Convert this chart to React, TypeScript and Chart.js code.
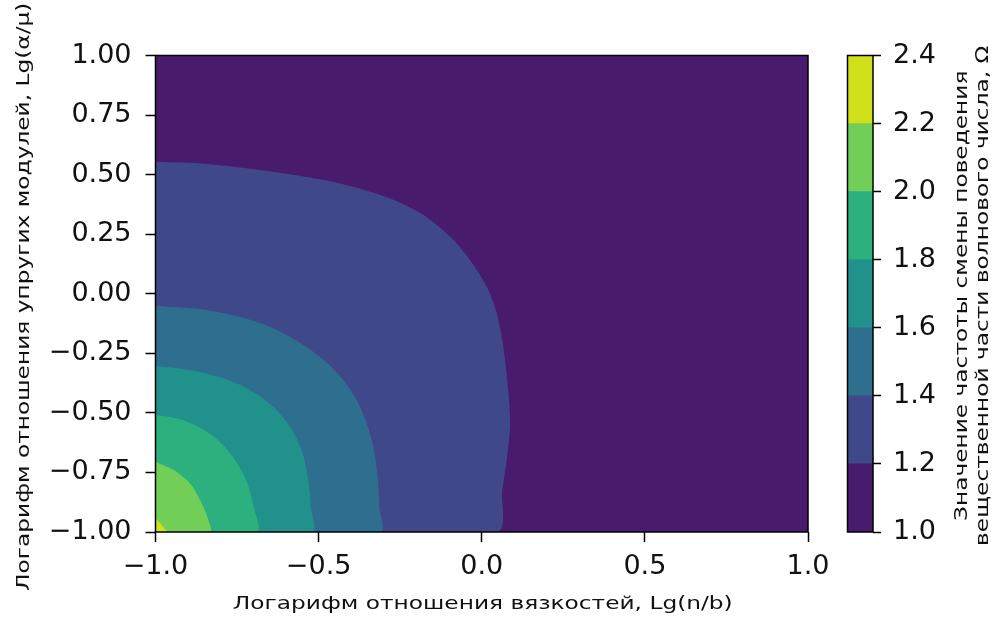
import { useEffect, useRef } from 'react';
import { Chart, registerables } from 'chart.js';

Chart.register(...registerables);

const FONT = 'DejaVu Sans';
const TITLE_SIZE = 17.5;
const TITLE_STRETCH = 1.33;

// Axis ticks
const xTicks = [-1, -0.5, 0, 0.5, 1];
const yTicks = [-1, -0.75, -0.5, -0.25, 0, 0.25, 0.5, 0.75, 1];

// Contour levels (colour bar) and their viridis fills
const levels = [1.0, 1.2, 1.4, 1.6, 1.8, 2.0, 2.2, 2.4];
const levelColors = ['#481b6d', '#3f4889', '#2e6e8e', '#21918c', '#2cb17e', '#71cf57', '#d0e11c'];

// Labels
const xTitle = 'Логарифм отношения вязкостей, Lg(n/b)';
const yTitle = 'Логарифм отношения упругих модулей, Lg(α/μ)';
const cbTitleLines = ['Значение частоты смены поведения', 'вещественной части волнового числа, Ω'];

// Whole domain (lowest band)
const domain: [number, number][] = [[-1, -1], [-1, 1], [1, 1], [1, -1]];

// Iso-lines, from the left edge down to the bottom edge
const contour12: [number, number][] = [
  [-1, 0.554], [-0.843, 0.545], [-0.639, 0.512], [-0.434, 0.463], [-0.281, 0.4],
  [-0.179, 0.331], [-0.097, 0.24], [-0.036, 0.142], [0.015, 0.03], [0.046, -0.082],
  [0.066, -0.222], [0.081, -0.404], [0.087, -0.544], [0.078, -0.684], [0.063, -0.824], [0.046, -1],
];
const contour14: [number, number][] = [
  [-1, -0.05], [-0.843, -0.068], [-0.69, -0.117], [-0.588, -0.18], [-0.496, -0.264],
  [-0.424, -0.362], [-0.373, -0.474], [-0.337, -0.614], [-0.32, -0.754], [-0.314, -0.894], [-0.312, -1],
];
const contour16: [number, number][] = [
  [-1, -0.303], [-0.894, -0.32], [-0.792, -0.355], [-0.71, -0.404], [-0.639, -0.474],
  [-0.588, -0.558], [-0.552, -0.656], [-0.532, -0.782], [-0.524, -0.894], [-0.521, -1],
];
const contour18: [number, number][] = [
  [-1, -0.509], [-0.93, -0.525], [-0.86, -0.565], [-0.8, -0.625], [-0.755, -0.7],
  [-0.72, -0.79], [-0.7, -0.89], [-0.69, -1],
];
const contour20: [number, number][] = [
  [-1, -0.705], [-0.945, -0.74], [-0.894, -0.796], [-0.858, -0.88], [-0.838, -0.95], [-0.833, -1],
];
const contour22: [number, number][] = [
  [-1, -0.94], [-0.985, -0.965], [-0.966, -1],
];

const contours = [contour12, contour14, contour16, contour18, contour20, contour22];
const corner: [number, number] = [-1, -1];

const fmt = (v: number, digits: number) =>
  (v < 0 ? '\u2212' : '') + Math.abs(v).toFixed(digits);

// Wide title lettering, optionally rotated to read bottom-to-top
function drawTitle(ctx: CanvasRenderingContext2D, text: string, x: number, y: number, vertical: boolean) {
  ctx.save();
  ctx.translate(x, y);
  if (vertical) ctx.rotate(-Math.PI / 2);
  ctx.scale(TITLE_STRETCH, 1);
  ctx.font = `${TITLE_SIZE}px "${FONT}"`;
  ctx.fillStyle = '#111';
  ctx.textAlign = 'center';
  ctx.textBaseline = 'alphabetic';
  ctx.fillText(text, 0, 0);
  ctx.restore();
}

const framePlugin = {
  id: 'frame',
  afterDraw(chart: any) {
    const { ctx, chartArea } = chart;
    const { left, top, right, bottom } = chartArea;
    ctx.save();
    ctx.strokeStyle = '#000';
    ctx.lineWidth = 1.5;
    ctx.strokeRect(left, top, right - left, bottom - top);
    ctx.restore();
  },
};

const axisTitlesPlugin = {
  id: 'axisTitles',
  afterDraw(chart: any) {
    const { ctx, chartArea } = chart;
    const cx = (chartArea.left + chartArea.right) / 2 + 1;
    const cy = (chartArea.top + chartArea.bottom) / 2 + 3;
    drawTitle(ctx, xTitle, cx, 609, false);
    drawTitle(ctx, yTitle, 28.5, cy, true);
  },
};

const cbTitlePlugin = {
  id: 'cbTitle',
  afterDraw(chart: any) {
    const { ctx, chartArea } = chart;
    const cy = (chartArea.top + chartArea.bottom) / 2 + 2;
    cbTitleLines.forEach((line, k) => {
      drawTitle(ctx, line, 127 + k * 20.5, cy, true);
    });
  },
};

export default function App() {
  const mainRef = useRef<HTMLCanvasElement>(null);
  const cbRef = useRef<HTMLCanvasElement>(null);

  useEffect(() => {
    Chart.defaults.font.family = FONT;
    const regions = [domain, ...contours.map((c) => [...c, corner])];

    const main = new Chart(mainRef.current!, {
      type: 'line',
      data: {
        datasets: regions.map((pts, i) => ({
          data: pts.map(([x, y]) => ({ x, y })),
          backgroundColor: levelColors[i],
          borderColor: levelColors[i],
          borderWidth: 0,
          pointRadius: 0,
          pointHoverRadius: 0,
          fill: 'shape',
          tension: 0.3,
          order: regions.length - i,
        })),
      },
      options: {
        animation: false,
        responsive: false,
        devicePixelRatio: 1,
        layout: { padding: { left: 0, top: 55.5, right: 32, bottom: 0 } },
        plugins: { legend: { display: false }, tooltip: { enabled: false } },
        events: [],
        scales: {
          x: {
            type: 'linear',
            min: -1,
            max: 1,
            afterBuildTicks: (s: any) => { s.ticks = xTicks.map((v) => ({ value: v })); },
            afterFit: (s: any) => { s.height = 91; },
            ticks: {
              callback: (v: any) => fmt(Number(v), 1),
              font: { size: 27 },
              color: '#111',
              padding: 9,
              maxRotation: 0,
              autoSkip: false,
            },
            grid: { drawOnChartArea: false, drawTicks: true, tickLength: 10, tickWidth: 1.5, tickColor: '#000' },
            border: { display: false },
          },
          y: {
            type: 'linear',
            min: -1,
            max: 1,
            afterBuildTicks: (s: any) => { s.ticks = yTicks.map((v) => ({ value: v })); },
            afterFit: (s: any) => { s.width = 155.5; },
            ticks: {
              callback: (v: any) => fmt(Number(v), 2),
              font: { size: 27 },
              color: '#111',
              padding: 14,
              autoSkip: false,
            },
            grid: { drawOnChartArea: false, drawTicks: true, tickLength: 10, tickWidth: 1.5, tickColor: '#000' },
            border: { display: false },
          },
        },
      },
      plugins: [framePlugin, axisTitlesPlugin],
    } as any);

    const bands = levelColors.map((color, i) => ({
      data: [[levels[i], levels[i + 1]]],
      backgroundColor: color,
      borderWidth: 0,
      grouped: false,
      barPercentage: 1,
      categoryPercentage: 1,
    }));

    const cb = new Chart(cbRef.current!, {
      type: 'bar',
      data: { labels: [''], datasets: bands },
      options: {
        animation: false,
        responsive: false,
        devicePixelRatio: 1,
        layout: { padding: { left: 7.5, top: 55.5, right: 0, bottom: 91 } },
        plugins: { legend: { display: false }, tooltip: { enabled: false } },
        events: [],
        scales: {
          x: { display: false },
          y: {
            position: 'right',
            min: levels[0],
            max: levels[levels.length - 1],
            afterBuildTicks: (s: any) => { s.ticks = levels.map((v) => ({ value: v })); },
            afterFit: (s: any) => { s.width = 127; },
            ticks: {
              callback: (v: any) => fmt(Number(v), 1),
              font: { size: 27 },
              color: '#111',
              padding: 12,
              autoSkip: false,
            },
            grid: { drawOnChartArea: false, drawTicks: true, tickLength: 8, tickWidth: 1.5, tickColor: '#000' },
            border: { display: false },
          },
        },
      },
      plugins: [framePlugin, cbTitlePlugin],
    } as any);

    return () => {
      main.destroy();
      cb.destroy();
    };
  }, []);

  return (
    <div style={{ position: 'fixed', left: 0, top: 0, width: 1000, height: 623, background: '#fff' }}>
      <canvas ref={mainRef} width={840} height={623} style={{ position: 'absolute', left: 0, top: 0 }} />
      <canvas ref={cbRef} width={160} height={623} style={{ position: 'absolute', left: 840, top: 0 }} />
    </div>
  );
}
